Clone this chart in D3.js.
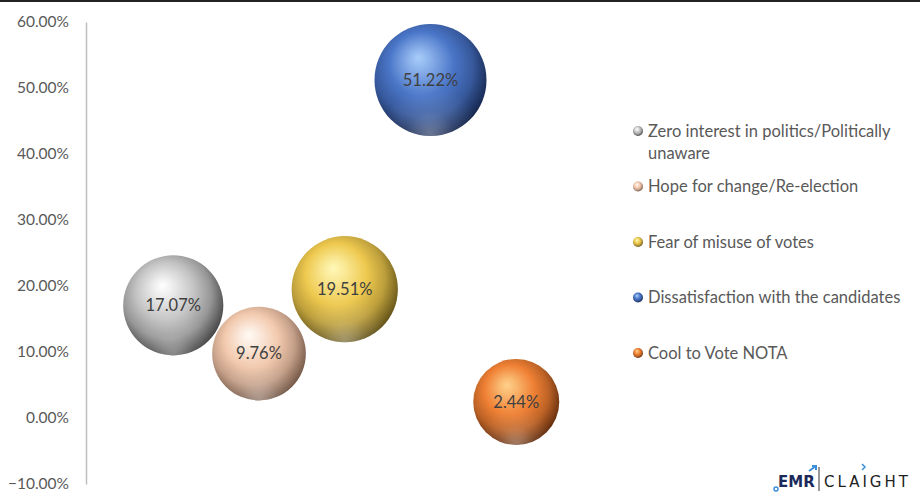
<!DOCTYPE html>
<html>
<head>
<meta charset="utf-8">
<script src="https://cdn.jsdelivr.net/npm/d3@7"></script>
<style>
  body { margin: 0; background: #fff; }
  svg { display: block; }
</style>
</head>
<body>
<script>
// series
const categories = [
  "Zero interest in politics/Politically unaware",
  "Hope for change/Re-election",
  "Fear of misuse of votes",
  "Dissatisfaction with the candidates",
  "Cool to Vote NOTA"
];
const xValues = [1, 2, 3, 4, 5];
const shares = [0.1707, 0.0976, 0.1951, 0.5122, 0.0244];
const bubbleSizes = [80, 70, 90, 100, 59];
const yTicks = [-0.1, 0, 0.1, 0.2, 0.3, 0.4, 0.5, 0.6];
const baseColors = ["#c4c4c4", "#f2c9ad", "#eec94f", "#4a76c8", "#ef8034"];
const lightColors = ["#ffffff", "#fffaf4", "#fff8b8", "#a8ccfa", "#ffd08a"];
const darkColors = ["#404040", "#6e5242", "#5e4e16", "#14244a", "#5e2a0c"];

var width = 920, height = 502;

let svg = d3.select("body").append("svg")
  .attr("width", width)
  .attr("height", height);

// thin dark strip along the top edge
svg.append("rect").attr("x", 0).attr("y", 0).attr("width", width).attr("height", 2).attr("fill", "#222");

let x = d3.scaleLinear().domain([0, 6]).range([87.5, 602]);
let y = d3.scaleLinear().domain([-0.1, 0.6]).range([484, 22]);
let r = d3.scaleSqrt().domain([0, 100]).range([0, 56]);

// sphere shading
let defs = svg.append("defs");
baseColors.forEach((c, i) => {
  let g = defs.append("radialGradient").attr("id", "ball" + i)
    .attr("cx", 0.45).attr("cy", 0.42).attr("r", 0.6)
    .attr("fx", 0.39).attr("fy", 0.3);
  g.append("stop").attr("offset", "0%").attr("stop-color", lightColors[i]);
  g.append("stop").attr("offset", "16%").attr("stop-color", d3.interpolateRgb(lightColors[i], c)(0.3));
  g.append("stop").attr("offset", "48%").attr("stop-color", c);
  g.append("stop").attr("offset", "74%").attr("stop-color", d3.interpolateRgb(c, darkColors[i])(0.35));
  g.append("stop").attr("offset", "100%").attr("stop-color", darkColors[i]);
});
let rim = defs.append("radialGradient").attr("id", "rim")
  .attr("cx", 0.5).attr("cy", 1.0).attr("r", 0.45);
rim.append("stop").attr("offset", "0%").attr("stop-color", "#fff").attr("stop-opacity", 0.35);
rim.append("stop").attr("offset", "50%").attr("stop-color", "#fff").attr("stop-opacity", 0.1);
rim.append("stop").attr("offset", "100%").attr("stop-color", "#fff").attr("stop-opacity", 0);

// y axis
let yAxis = d3.axisLeft(y).tickValues(yTicks).tickFormat(d3.format(".2%")).tickSize(0).tickPadding(17);
let ga = svg.append("g").attr("transform", "translate(86,0)").call(yAxis);
ga.select(".domain").attr("stroke", "#bfbfbf").attr("stroke-width", 1.5);
ga.selectAll("text").attr("fill", "#595959").attr("font-family", "Lato, 'Open Sans', sans-serif").attr("font-size", 15.5);

// bubbles
let data = categories.map((c, i) => ({ c, i, x: xValues[i], y: shares[i], s: bubbleSizes[i] }));
let bub = svg.selectAll("g.bubble").data(data).join("g").attr("class", "bubble");
bub.append("circle")
  .attr("cx", d => x(d.x)).attr("cy", d => y(d.y)).attr("r", d => r(d.s))
  .attr("fill", d => "url(#ball" + d.i + ")");
bub.append("circle")
  .attr("cx", d => x(d.x)).attr("cy", d => y(d.y)).attr("r", d => r(d.s))
  .attr("fill", "url(#rim)");
bub.append("text")
  .attr("x", d => x(d.x)).attr("y", d => y(d.y))
  .attr("dy", "0.35em").attr("text-anchor", "middle")
  .attr("fill", "#404040").attr("font-family", "Lato, 'Open Sans', sans-serif").attr("font-size", 16.5)
  .text(d => d3.format(".2%")(d.y));

// legend
let leg = svg.append("g").attr("font-family", "Lato, 'Open Sans', sans-serif").attr("font-size", 16.5).attr("fill", "#595959");
let li = leg.selectAll("g").data(data).join("g")
  .attr("transform", d => "translate(638," + (131 + d.i * 55.5) + ")");
li.append("circle").attr("r", 5).attr("fill", d => "url(#ball" + d.i + ")");
li.append("text").attr("x", 10).attr("dy", "0.35em")
  .each(function (d) {
    let t = d3.select(this);
    if (d.i === 0) {
      t.append("tspan").attr("x", 10).text("Zero interest in politics/Politically");
      t.append("tspan").attr("x", 10).attr("dy", 22).text("unaware");
    } else {
      t.text(d.c);
    }
  });

// logo
let logo = svg.append("g").attr("transform", "translate(776,487)");
logo.append("text").attr("x", 2).attr("font-family", "'DejaVu Sans', sans-serif").attr("font-weight", "bold")
  .attr("font-size", 15).attr("fill", "#1b2a5a").text("EMR");
logo.append("path").attr("d", "M33,-16 L40,-21 M36,-21 L40,-21 L40,-17").attr("stroke", "#3c8fd8").attr("stroke-width", 2).attr("fill", "none");
logo.append("circle").attr("cx", 0).attr("cy", 2).attr("r", 2).attr("fill", "none").attr("stroke", "#3c8fd8").attr("stroke-width", 1.5);
logo.append("line").attr("x1", 43).attr("x2", 43).attr("y1", -20).attr("y2", 4).attr("stroke", "#333").attr("stroke-width", 1);
logo.append("text").attr("x", 48).attr("font-family", "'DejaVu Sans', sans-serif")
  .attr("font-size", 15).attr("letter-spacing", 3).attr("fill", "#222").text("CLAIGHT");
logo.append("path").attr("d", "M86,-23 L89,-20 L86,-17").attr("stroke", "#3c8fd8").attr("stroke-width", 1.5).attr("fill", "none");
</script>
</body>
</html>
